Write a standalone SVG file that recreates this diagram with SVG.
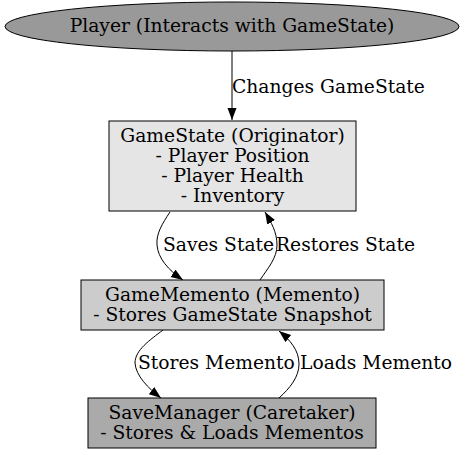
<svg xmlns="http://www.w3.org/2000/svg" width="465" height="455" viewBox="0 0 465 455">
<style>
text{font-family:"DejaVu Serif","Liberation Serif",serif;font-size:18.7px;fill:#000}
.c{text-anchor:middle}
.n{stroke:#000;stroke-width:1}
.e{fill:none;stroke:#000;stroke-width:1;marker-end:url(#ah)}
</style>
<defs>
<marker id="ah" markerUnits="userSpaceOnUse" markerWidth="12" markerHeight="10" refX="12" refY="4.5" orient="auto">
<path d="M0,0 L12,4.5 L0,9 z" fill="#000"/>
</marker>
</defs>
<rect width="465" height="455" fill="#fff"/>
<g id="edges">
<path class="e" d="M232,51 L232,120"/>
<path class="e" d="M170,212 C162,224 156,234 157,245 C158,258 168,270 183,280"/>
<path class="e" d="M260,280 C268,268 277,258 277,245 C277,232 271,222 265,212"/>
<path class="e" d="M163,330 C150,340 135,350 135,363 C136,376 148,388 161,398"/>
<path class="e" d="M279,398 C290,388 299,377 299,364 C299,350 290,340 279,331"/>
<text x="232" y="93">Changes GameState</text>
<text x="163" y="251">Saves State</text>
<text x="276" y="251">Restores State</text>
<text x="138" y="369">Stores Memento</text>
<text x="300" y="369">Loads Memento</text>
</g>
<g id="player">
<ellipse class="n" cx="232" cy="26.5" rx="227" ry="24.5" fill="#999999"/>
<text class="c" x="232" y="32">Player (Interacts with GameState)</text>
</g>
<g id="gamestate">
<rect class="n" x="109" y="121" width="247" height="90" fill="#e5e5e5"/>
<text class="c" x="232.5" y="142">GameState (Originator)</text>
<text class="c" x="232.5" y="162">- Player Position</text>
<text class="c" x="232.5" y="182">- Player Health</text>
<text class="c" x="232.5" y="202">- Inventory</text>
</g>
<g id="gamememento">
<rect class="n" x="81" y="280" width="303" height="50" fill="#cccccc"/>
<text class="c" x="232.5" y="301">GameMemento (Memento)</text>
<text class="c" x="232.5" y="321">- Stores GameState Snapshot</text>
</g>
<g id="savemanager">
<rect class="n" x="88" y="398" width="288" height="50" fill="#aaaaaa"/>
<text class="c" x="232" y="419">SaveManager (Caretaker)</text>
<text class="c" x="232" y="439">- Stores &amp; Loads Mementos</text>
</g>
</svg>
